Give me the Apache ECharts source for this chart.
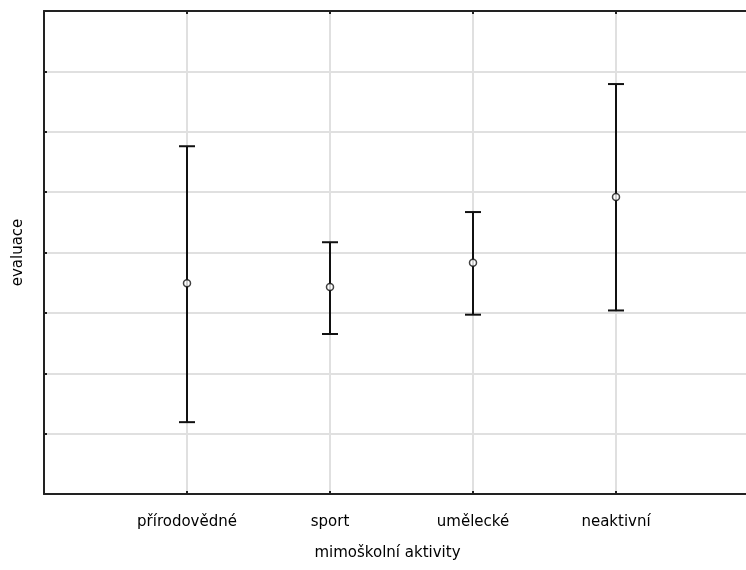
<!DOCTYPE html>
<html>
<head>
<meta charset="utf-8">
<script src="https://cdn.jsdelivr.net/npm/echarts@6/dist/echarts.min.js"></script>
<style>
  html, body { margin: 0; padding: 0; background: #fff; }
  #main { width: 746px; height: 570px; }
</style>
</head>
<body>
<div id="main"></div>
<script>
var categories = ['přírodovědné', 'sport', 'umělecké', 'neaktivní'];
var means = [3.49, 3.43, 3.83, 4.92];
var lower = [1.19, 2.65, 2.97, 3.04];
var upper = [5.76, 4.17, 4.67, 6.79];

var chart = echarts.init(document.getElementById('main'));

var errData = [];
var meanData = [];
for (var i = 0; i < categories.length; i++) {
    errData.push([i + 1, lower[i], upper[i]]);
    meanData.push([i + 1, means[i]]);
}

var axisLine = { show: true, lineStyle: { color: '#222', width: 2 } };
var font = { fontFamily: 'DejaVu Sans', fontSize: 15, color: '#000' };

var option = {
    animation: false,
    grid: { left: 44, top: 11, width: 715, height: 483, outerBoundsMode: 'none', containLabel: false },
    xAxis: [{
        type: 'value', min: 0, max: 5, interval: 1,
        axisLine: axisLine,
        axisTick: { show: true, inside: true, length: 3, lineStyle: { color: '#222', width: 2 } },
        axisLabel: Object.assign({
            margin: 21,
            formatter: function (v) { return categories[v - 1] || ''; }
        }, font),
        splitLine: { show: true, lineStyle: { color: '#e0e0e0', width: 2 } },
        name: 'mimoškolní aktivity',
        nameLocation: 'middle',
        nameGap: 52,
        nameTextStyle: Object.assign({ padding: [0, 28, 0, 0] }, font)
    }, {
        type: 'value', min: 0, max: 5, interval: 1, position: 'top',
        axisLine: axisLine,
        axisTick: { show: true, inside: true, length: 3, lineStyle: { color: '#222', width: 2 } },
        axisLabel: { show: false },
        splitLine: { show: false }
    }],
    yAxis: {
        type: 'value', min: 0, max: 8, interval: 1,
        axisLine: axisLine,
        axisTick: { show: true, inside: true, length: 3, lineStyle: { color: '#222', width: 2 } },
        axisLabel: { show: false },
        splitLine: { show: true, lineStyle: { color: '#e0e0e0', width: 2 } },
        name: 'evaluace',
        nameLocation: 'middle',
        nameGap: 18,
        nameTextStyle: font
    },
    series: [{
        type: 'custom',
        data: errData,
        renderItem: function (params, api) {
            var x = api.value(0);
            var lo = api.coord([x, api.value(1)]);
            var hi = api.coord([x, api.value(2)]);
            var hw = 8;
            var st = { stroke: '#111', lineWidth: 2, fill: null };
            return {
                type: 'group',
                children: [
                    { type: 'line', shape: { x1: lo[0], y1: lo[1], x2: hi[0], y2: hi[1] }, style: st },
                    { type: 'line', shape: { x1: lo[0] - hw, y1: lo[1], x2: lo[0] + hw, y2: lo[1] }, style: st },
                    { type: 'line', shape: { x1: hi[0] - hw, y1: hi[1], x2: hi[0] + hw, y2: hi[1] }, style: st }
                ]
            };
        },
        z: 3
    }, {
        type: 'scatter',
        data: meanData,
        symbol: 'circle',
        symbolSize: 7,
        itemStyle: { color: '#fff', borderColor: '#111', borderWidth: 1.5 },
        z: 4
    }]
};

chart.setOption(option);
</script>
</body>
</html>
